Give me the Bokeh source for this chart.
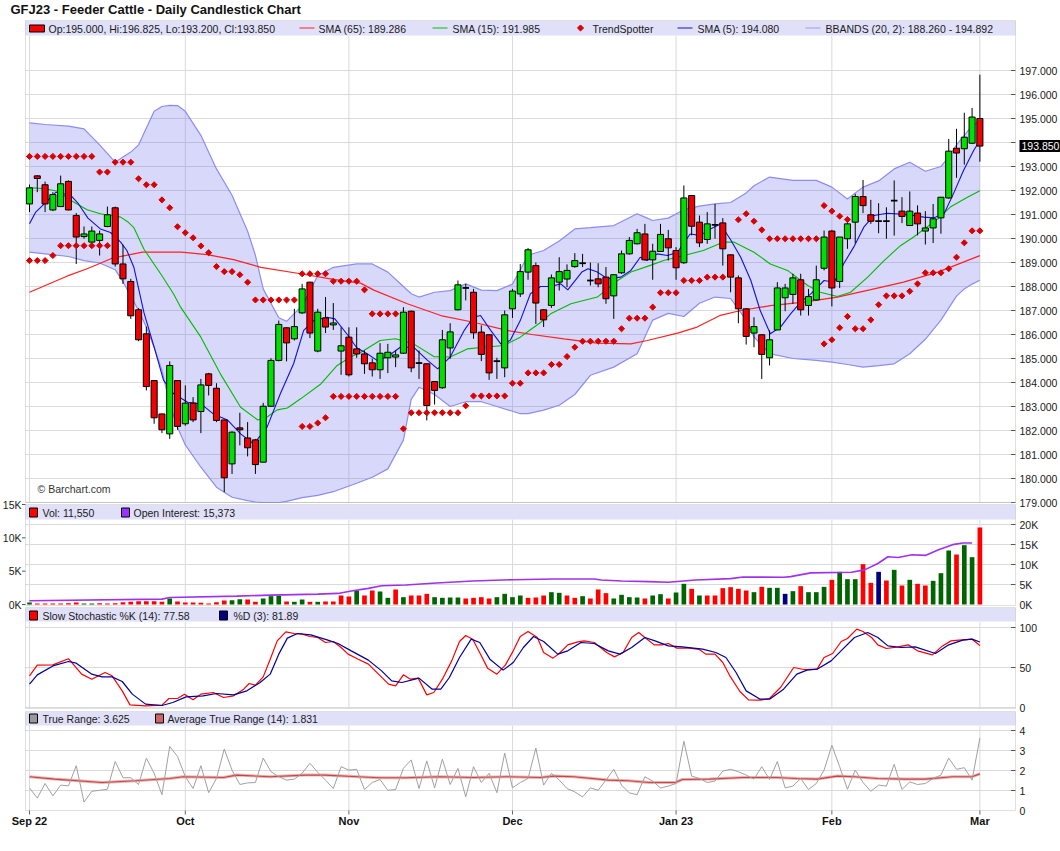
import math
from bokeh.plotting import figure
from bokeh.models import Range1d, Label, BoxAnnotation
from bokeh.embed import file_html
from bokeh.resources import INLINE

# ---------------- data ----------------
month_idx = [0, 20, 41, 62, 83, 103, 122]
month_lbl = ["Sep 22", "Oct", "Nov", "Dec", "Jan 23", "Feb", "Mar"]

opens = [191.44, 192.61, 192.24, 191.19, 191.33, 192.38, 190.96, 190.08, 189.85, 189.92,
         190.50, 191.28, 188.94, 188.21, 187.03, 186.03, 184.08, 182.69, 181.86, 184.08,
         182.28, 183.14, 182.79, 184.36, 183.76, 182.44, 180.61, 182.11, 181.69, 181.61,
         180.68, 183.01, 184.92, 186.28, 185.82, 186.90, 188.18, 185.31, 186.69, 186.40,
         185.31, 185.89, 185.40, 185.19, 184.82, 184.53, 185.03, 185.06, 185.22, 186.97,
         184.81, 184.78, 184.04, 183.78, 185.44, 187.03, 187.94, 187.76, 186.10, 185.99,
         184.89, 184.61, 187.07, 187.69, 188.60, 188.87, 187.03, 187.21, 188.18, 188.31,
         188.83, 188.97, 188.25, 188.32, 188.39, 187.61, 188.57, 189.36, 189.78, 190.19,
         189.11, 189.46, 189.99, 189.50, 188.99, 191.79, 190.68, 189.96, 190.57, 190.65,
         189.32, 188.36, 187.07, 186.06, 185.99, 185.03, 186.19, 187.53, 187.67, 188.28,
         187.21, 187.44, 188.76, 190.31, 188.21, 189.99, 190.68, 191.75, 190.99, 190.72,
         190.72, 191.58, 191.14, 190.54, 191.06, 190.31, 190.44, 190.86, 191.69, 193.76,
         193.74, 193.97, 195.00]
highs = [192.25, 192.63, 192.37, 191.93, 192.62, 192.42, 191.06, 190.50, 190.50, 190.33,
         191.33, 191.33, 189.74, 188.32, 187.10, 186.33, 184.10, 182.70, 184.88, 184.10,
         183.88, 183.39, 184.15, 184.40, 183.97, 182.45, 181.97, 182.74, 182.35, 181.65,
         183.15, 185.01, 186.58, 186.30, 187.07, 188.11, 188.20, 187.07, 187.56, 187.31,
         186.30, 186.30, 186.30, 185.33, 184.99, 185.64, 185.61, 185.33, 187.14, 187.00,
         185.33, 184.80, 184.05, 186.19, 186.47, 188.25, 188.11, 187.90, 186.38, 186.00,
         185.03, 187.00, 187.90, 188.94, 189.60, 189.00, 187.05, 188.50, 189.22, 188.92,
         189.39, 189.36, 189.00, 188.97, 188.81, 188.50, 189.50, 190.06, 190.40, 190.61,
         189.78, 190.61, 190.36, 189.64, 192.21, 191.80, 190.96, 191.10, 191.44, 190.85,
         189.33, 188.46, 187.10, 186.72, 186.00, 186.17, 188.18, 188.11, 188.53, 188.53,
         187.90, 188.87, 190.33, 190.36, 190.06, 190.89, 191.86, 192.44, 191.61, 191.47,
         191.30, 192.42, 191.72, 191.96, 191.38, 191.14, 191.44, 191.72, 194.15, 194.57,
         195.24, 195.44, 196.825]
lows = [191.10, 191.93, 191.10, 191.14, 191.33, 191.17, 188.94, 189.99, 189.64, 189.29,
        190.47, 188.83, 188.11, 186.65, 185.72, 183.67, 182.28, 181.89, 181.65, 182.03,
        182.20, 182.35, 181.89, 183.46, 182.35, 179.43, 180.19, 181.38, 180.92, 180.19,
        180.68, 183.00, 184.88, 184.88, 185.75, 186.86, 185.85, 185.26, 186.06, 186.19,
        184.32, 184.25, 185.03, 184.36, 184.25, 184.15, 184.39, 184.64, 185.19, 184.43,
        184.15, 182.42, 183.08, 183.74, 184.99, 187.00, 187.42, 185.82, 184.89, 184.11,
        184.15, 184.22, 186.69, 187.56, 188.28, 186.44, 186.31, 187.11, 187.83, 187.97,
        188.78, 188.81, 188.04, 187.97, 187.28, 186.65, 188.53, 189.33, 189.75, 189.08,
        188.28, 189.46, 189.08, 188.28, 188.94, 190.13, 189.64, 189.78, 189.99, 188.87,
        187.76, 186.47, 185.58, 185.47, 184.15, 184.71, 186.19, 186.97, 187.28, 186.79,
        186.79, 187.42, 188.67, 187.17, 187.94, 189.57, 189.80, 191.06, 190.61, 190.22,
        189.99, 190.12, 190.64, 190.54, 190.13, 189.75, 189.81, 190.20, 191.65, 192.53,
        193.08, 193.94, 193.20]
closes = [192.11, 192.50, 191.44, 191.83, 192.28, 191.19, 190.06, 190.19, 190.31, 190.19,
          190.99, 188.94, 188.32, 186.78, 185.78, 183.83, 182.53, 182.03, 184.71, 182.17,
          183.14, 182.44, 183.90, 183.88, 182.42, 180.03, 181.93, 182.03, 181.28, 180.58,
          183.01, 184.92, 186.42, 185.65, 186.33, 187.90, 186.06, 186.93, 186.31, 186.48,
          185.53, 184.32, 185.19, 184.78, 184.53, 185.22, 185.26, 185.15, 186.93, 184.61,
          184.81, 183.04, 183.67, 185.78, 186.11, 188.07, 187.94, 186.07, 185.17, 184.40,
          184.89, 186.82, 187.81, 188.62, 189.53, 187.31, 186.61, 188.36, 188.62, 188.67,
          189.08, 188.97, 188.25, 188.11, 187.49, 188.49, 189.36, 189.92, 190.24, 189.11,
          189.47, 190.17, 189.61, 188.78, 191.69, 190.51, 189.82, 190.61, 190.57, 189.57,
          188.39, 187.07, 185.92, 186.33, 185.17, 185.78, 187.94, 187.94, 188.36, 187.03,
          187.58, 188.28, 190.06, 187.94, 190.06, 190.61, 191.75, 191.37, 190.72, 190.72,
          190.72, 191.58, 190.92, 191.14, 190.61, 190.44, 190.82, 191.72, 193.64, 193.56,
          194.22, 195.06, 193.85]

sma65_x = [0, 4.8, 7.4, 10.6, 14.5, 19.5, 22.8, 26.2, 29.7, 34.8, 39, 42.5, 44.2, 48.5, 52.8, 57,
           61.3, 64.5, 68.6, 72.9, 77.2, 79.3, 83.2, 85.7, 88.7, 91.3, 95.1, 99.4, 103.7, 108,
           112.2, 116.6, 122]
sma65_v = [187.76, 188.43, 188.74, 189.18, 189.43, 189.43, 189.33, 189.12, 188.80, 188.53, 188.30,
           188.14, 187.85, 187.28, 186.79, 186.51, 186.17, 186.00, 185.82, 185.64, 185.61, 185.75,
           186.06, 186.31, 186.80, 187.00, 187.20, 187.35, 187.56, 187.87, 188.18, 188.60, 189.286]

sma15_x = [0, 2, 3.6, 5.5, 7.4, 9.1, 10.4, 11.7, 12.6, 13.4, 14.7, 17.0, 18.5, 19.4, 22, 24.5,
           27.1, 29.3, 30.5, 31.8, 33.1, 34.8, 37.4, 39.5, 41.2, 42.5, 45, 47, 49.3, 51.9, 54,
           56.2, 58.3, 60.9, 63, 64.3, 65.6, 66.9, 69.5, 72.9, 75.5, 77.2, 79.7, 81.4, 84, 86.5,
           89.1, 90.4, 93, 95.1, 97.3, 99.9, 101.5, 103.7, 105.4, 107.6, 109.7, 111.8, 113.5,
           116.6, 118.2, 120.4, 122]
sma15_v = [192.12, 192.07, 191.97, 191.55, 191.20, 191.03, 190.96, 190.89, 190.70, 190.45, 189.55,
           188.45, 187.69, 187.14, 185.89, 184.36, 182.97, 182.44, 182.56, 182.86, 182.94, 183.32,
           183.94, 184.71, 185.06, 185.25, 185.75, 185.82, 185.61, 185.08, 185.06, 185.40, 185.47,
           185.54, 185.89, 186.20, 186.50, 186.86, 187.28, 187.56, 188.25, 188.60, 188.88, 189.08,
           189.29, 189.50, 189.85, 189.85, 189.43, 188.94, 188.67, 188.04, 187.76, 187.58, 187.76,
           188.39, 189.08, 189.70, 190.06, 190.82, 191.31, 191.72, 191.985]

sma5_x = [0, 0.8, 2, 3.4, 5.3, 6.3, 7.5, 9.1, 10.4, 11.7, 12.5, 13.4, 14.7, 16, 17.2, 18.5, 20.3,
          22, 23.6, 25.4, 27.1, 28.8, 30.5, 32.2, 33.9, 35.2, 36.5, 38.2, 39.2, 40.8, 42, 43.4,
          44.6, 45.9, 47.6, 49.3, 51.1, 52.4, 54, 55.8, 57, 57.9, 59.2, 60.5, 61.7, 63, 64.3, 65.6,
          66.9, 68.2, 69.1, 70.9, 71.7, 72.9, 74.2, 75.9, 77.2, 78.4, 79.3, 80.6, 81.9, 83.2, 84.8,
          86.1, 87.4, 88.7, 90, 91.3, 92.6, 93.8, 95.1, 96.4, 97.7, 99, 100.3, 102, 103.3, 104.5,
          105.8, 107.1, 108.4, 110.1, 112.7, 114.8, 116.1, 117.4, 118.6, 119.9, 121.2, 122]
sma5_v = [190.61, 191.10, 191.47, 191.93, 191.80, 191.44, 190.85, 190.40, 190.25, 189.85, 189.50,
          188.80, 186.90, 185.47, 184.10, 183.53, 183.18, 183.11, 182.69, 182.44, 181.86, 181.44,
          182.14, 183.53, 184.78, 186.17, 186.58, 186.72, 186.65, 186.00, 185.45, 185.19, 184.92,
          185.06, 185.47, 185.47, 184.92, 184.57, 185.06, 186.17, 186.72, 186.79, 186.17, 185.61,
          185.75, 186.58, 187.70, 188.00, 188.00, 188.11, 187.86, 188.60, 188.74, 188.60, 188.32,
          188.39, 188.67, 189.22, 189.08, 189.36, 189.29, 189.43, 190.19, 190.13, 190.40, 190.60,
          189.95, 189.22, 188.25, 187.00, 186.03, 186.31, 186.86, 187.35, 187.69, 188.25, 188.18,
          188.94, 189.64, 190.47, 190.96, 191.05, 191.00, 190.89, 190.86, 191.03, 191.86, 192.83,
          193.67, 194.08]

bb_x = [0, 2, 5, 7, 9, 11, 12, 13, 14, 15, 16, 17, 18, 19, 20, 22, 24, 26, 28, 29, 30, 32, 33,
        35, 37, 39, 42, 44, 46, 48, 49, 50, 52, 54, 56, 58, 60, 62, 63, 64, 66, 68, 70, 72, 75,
        78, 79, 80, 82, 84, 86, 88, 90, 92, 93, 95, 98, 101, 103, 105, 107, 109, 111, 113, 115,
        117, 118, 119, 120, 121, 122]
bb_upper = [194.82, 194.75, 194.68, 194.57, 193.90, 193.18, 193.40, 193.60, 193.90, 194.60, 195.30,
            195.50, 195.55, 195.54, 195.30, 194.30, 192.90, 191.80, 190.30, 189.30, 187.90, 186.70,
            186.55, 187.20, 188.45, 188.80, 188.94, 188.94, 188.60, 188.00, 187.70, 187.56, 187.76,
            187.83, 188.11, 187.85, 187.83, 188.10, 188.70, 189.30, 189.50, 189.90, 190.40, 190.45,
            190.54, 191.03, 190.89, 190.75, 190.85, 191.20, 191.35, 191.44, 191.50, 191.90, 192.20,
            192.56, 192.42, 192.42, 192.14, 191.65, 192.14, 192.40, 192.90, 193.18, 192.80, 193.00,
            193.40, 193.90, 194.30, 194.70, 194.892]
bb_lower = [189.43, 189.36, 189.25, 189.08, 188.98, 188.70, 188.20, 187.60, 187.00, 186.30, 185.47,
            184.50, 183.10, 182.14, 181.40, 180.47, 179.64, 179.22, 179.08, 179.02, 179.00, 179.00,
            179.05, 179.20, 179.30, 179.45, 179.80, 180.05, 180.40, 181.60, 183.30, 183.80, 183.50,
            183.00, 183.20, 183.20, 183.00, 182.80, 182.70, 182.70, 182.85, 183.05, 183.50, 184.30,
            184.64, 185.20, 185.90, 186.60, 186.88, 186.75, 187.30, 187.56, 187.50, 186.60, 185.90,
            185.20, 185.00, 184.92, 184.85, 184.75, 184.64, 184.70, 184.78, 185.20, 185.80, 186.60,
            187.10, 187.60, 187.90, 188.10, 188.26]

N = None
ts_upper = ([193.42] * 9 + [192.77] * 2 + [193.18] * 3 + [192.49] + [192.24] * 2 +
            [191.61, 191.28, 190.49, 190.24, 190.03, 189.69, 189.41, 188.83] + [188.62] * 2 +
            [188.49, 188.18] + [187.44] * 6 + [188.53] * 4 + [188.22] * 4 + [187.86] +
            [186.86] * 4 + [N] * 43 + [190.78, 191.03, 190.72, 190.36] + [189.99] * 7 +
            [191.37, 191.14, 190.93, 190.79] + [N] * 17)
ts_lower = ([189.08] * 3 + [189.29] + [189.70] * 7 + [N] * 24 + [182.17] * 2 + [182.31, 182.53] +
            [183.42] * 9 + [182.07] + [182.74] * 7 + [183.03] + [183.44] * 5 + [183.97] * 2 +
            [184.40] * 3 + [184.75] * 2 + [185.08, 185.47] + [185.72] * 5 + [186.24] +
            [186.68] * 3 + [187.14] + [187.74] * 3 + [188.25] * 3 + [188.39] * 3 + [N] * 12 +
            [185.61, 185.78, 186.28, 186.75, 186.24, 186.24, 186.61, 187.24] + [187.61] * 3 +
            [187.80, 188.11] + [188.57] * 3 + [188.74, 189.22, 189.82, 190.32, 190.32])

volume_k = [0.3, 0.15, 0.15, 0.15, 0.15, 0.2, 0.3, 0.15, 0.15, 0.2,
            0.15, 0.2, 0.35, 0.4, 0.5, 0.5, 0.5, 0.4, 0.9, 0.45,
            0.3, 0.3, 0.25, 0.15, 0.35, 0.6, 0.65, 0.8, 0.75, 0.4,
            0.9, 1.25, 1.3, 0.45, 0.4, 0.75, 0.4, 0.4, 0.45, 0.45,
            1.35, 1.2, 2.05, 1.35, 2.1, 1.95, 1.0, 2.25, 1.1, 1.35,
            1.35, 1.6, 1.1, 1.0, 1.05, 1.05, 0.9, 1.0, 1.1, 0.9,
            1.1, 1.6, 1.1, 1.35, 1.0, 1.05, 1.35, 1.85, 1.75, 1.35,
            1.0, 1.25, 0.9, 2.25, 1.7, 0.9, 1.45, 1.1, 1.05, 0.9,
            1.35, 1.55, 0.9, 1.8, 3.1, 2.35, 1.35, 1.35, 1.35, 2.45,
            2.6, 2.35, 2.1, 1.85, 2.65, 2.5, 2.5, 1.6, 2.0, 2.75,
            1.85, 1.85, 2.65, 3.7, 4.9, 3.8, 3.8, 6.05, 3.25, 4.9,
            3.6, 5.2, 2.85, 3.7, 3.1, 2.85, 3.55, 4.7, 8.1, 7.5,
            8.9, 7.1, 11.55]
volume_dir = (list("udddddduud") + list("ddddddddud") + list("dddddduudd") + list("uuuduududd") +
              list("ddudduudud") + list("dduuuudddd") + list("uuuuddduud") + list("duddduuuud") +
              list("uuduududdd") + list("ddduduunud") + list("uuuduuuddn") + list("dududduuud") +
              list("uud"))

oi_x = [0, 17, 18, 26.6, 31, 37, 39.6, 41.3, 43.5, 45.2, 48.3, 51.7, 56.9, 62.1, 67.3, 72.5, 73.4,
        76, 79.5, 82, 85.5, 90, 91.6, 96.8, 97.7, 100.3, 105.5, 107.2, 108.9, 110.2, 111.5, 113.3,
        115, 116.7, 118.5, 119.8, 121]
oi_k = [0.92, 1.34, 1.76, 2.1, 2.35, 2.6, 2.77, 3.36, 4.03, 4.7, 4.87, 5.3, 5.88, 6.2, 6.39, 6.39,
        6.13, 5.88, 5.71, 5.55, 6.13, 6.47, 6.89, 6.8, 6.97, 7.9, 8.07, 8.66, 10.25, 11.93, 11.76,
        12.44, 12.27, 13.7, 14.96, 15.38, 15.373]

stk_x = [0, 1, 3, 5, 6.7, 8, 9.7, 10.6, 11.9, 12.9, 14.9, 17, 17.9, 19, 19.9, 21, 22, 23.6, 24.9,
         26.2, 27.5, 28.2, 29, 30, 30.9, 31.8, 32.9, 34, 35, 36, 37, 38, 39, 40, 40.9, 42.2, 43.5,
         44.8, 46.1, 47, 48, 48.9, 49.9, 51, 51.9, 53, 54.2, 55.2, 56, 56.9, 58, 58.8, 60, 61.1,
         62.1, 63, 64, 65.2, 66, 67.2, 68, 69.1, 70.4, 71.2, 72.5, 74.1, 75.1, 76.2, 77.3, 78.2,
         79, 80.2, 81.2, 82, 83.1, 84.7, 86, 86.8, 88, 89, 89.9, 91.2, 92.3, 93.8, 95, 96.4, 98.1,
         99.4, 101.1, 102, 103.1, 104.2, 105, 106.2, 107, 108.1, 108.9, 110, 111.5, 112.8, 114,
         115.9, 117.2, 118.3, 119.3, 121, 122]
stk_k = [39.6, 52.9, 53.3, 61, 41.7, 35.4, 43.75, 39.6, 20.8, 3.3, 2.1, 2.9, 11.25, 11.25, 16.7,
         9.6, 16.7, 18.75, 12.5, 14.6, 22.9, 30, 27.9, 38.3, 60.4, 83.3, 94.6, 92.5, 91.7, 88.75,
         87.5, 81.25, 82.5, 75, 66.7, 60.4, 54.2, 41.7, 29.2, 27, 40.8, 35.4, 36.7, 15.8, 18.75,
         35.4, 58.3, 82.5, 90, 85.4, 64.6, 49.2, 41.7, 53.3, 70.8, 88.75, 95, 87.5, 68.75, 61.7,
         67.5, 78.3, 82.1, 83.3, 81.25, 68.75, 63.3, 68.75, 87.5, 93.75, 87.5, 78.3, 78.3, 80,
         74.2, 74.2, 72.5, 66.7, 66.7, 56.25, 39.6, 20, 9.6, 9.2, 11.25, 25, 50, 47.5, 47.9, 62.5,
         67.5, 82.5, 86.25, 97.9, 95, 87.5, 78.3, 73.75, 75.8, 78.3, 70.8, 65.8, 77, 83.3, 84.2,
         85.4, 77.58]
std_x = [0, 1, 3, 5, 6, 8, 9.3, 10.6, 11.9, 13.2, 14.9, 17, 18.4, 20.1, 22.3, 24, 26.2, 27.9,
         29.6, 30.9, 32, 33.1, 34.4, 36.1, 38.3, 39.6, 41.3, 43.5, 45.2, 46.5, 47.8, 50, 51.7,
         52.8, 53.9, 55.2, 56.7, 57.8, 59.1, 60.8, 62.1, 63.4, 64.7, 66, 67.8, 69.1, 70.8, 72.5,
         74.3, 75.8, 77.3, 79, 80.3, 82, 83.8, 86.4, 88.1, 89.4, 90.7, 92, 93.8, 95, 96.8, 98.5,
         99.8, 101.1, 102.9, 104.4, 105.9, 107.6, 108.9, 110.2, 111.9, 113.7, 116.3, 118, 119.8,
         121, 122]
std_d = [29.2, 40.8, 52, 57.5, 55.4, 41.7, 38.3, 38.3, 32.5, 16.7, 4.2, 2.5, 6.25, 13.3, 14.6,
         17.5, 15.8, 20.8, 31.25, 41.7, 66.7, 86.7, 92.5, 90.8, 84.2, 80, 70.8, 59.2, 45.8, 33.3,
         31.25, 36.7, 22.9, 22.9, 37.5, 62.5, 85.4, 81.25, 60.4, 46.7, 56.25, 75, 88.75, 82.5,
         66.7, 70.8, 81.25, 80, 70.8, 66.7, 75, 87.5, 83.3, 77, 75.8, 72.9, 68.75, 62.5, 43.75,
         20.8, 10.4, 10.4, 22.9, 41.7, 46.7, 47.9, 58.3, 72.9, 87.5, 93.75, 87.5, 77, 75, 75.8,
         67.5, 78.3, 84.2, 85.4, 81.89]

true_range = [1.13, 0.62, 1.35, 0.73, 1.27, 1.23, 2.24, 0.42, 0.96, 1.01,
              1.06, 2.45, 1.64, 1.64, 1.30, 2.62, 1.86, 0.79, 3.20, 2.70,
              1.69, 1.10, 2.24, 0.89, 1.60, 3.07, 2.02, 1.30, 1.38, 1.40,
              2.62, 1.94, 1.69, 1.52, 1.57, 1.86, 2.36, 1.91, 1.52, 1.10,
              2.19, 2.02, 2.06, 1.05, 1.40, 1.55, 1.01, 1.05, 2.11, 2.53,
              1.10, 2.48, 1.13, 2.57, 1.30, 2.11, 0.68, 2.19, 1.40, 1.86,
              0.89, 2.87, 1.13, 1.40, 1.60, 3.12, 1.27, 1.86, 1.52, 1.10,
              0.93, 0.68, 1.13, 1.01, 1.52, 2.06, 1.27, 0.88, 0.79, 1.69,
              1.47, 1.13, 1.22, 1.35, 3.46, 1.72, 1.60, 1.40, 1.47, 1.97,
              2.06, 1.94, 1.77, 1.57, 2.19, 1.55, 2.45, 1.13, 1.22, 1.60,
              1.05, 1.35, 2.02, 3.26, 2.19, 1.06, 2.02, 1.40, 0.96, 1.27,
              1.22, 2.31, 1.05, 1.43, 1.30, 1.35, 1.60, 1.77, 2.62, 2.06,
              2.14, 1.52, 3.625]
atr_x = [0, 3.2, 9.3, 13.6, 18, 19.7, 24.9, 26.6, 30.9, 35.3, 37.9, 42.2, 44.8, 48.3, 52.6, 56.9,
         61.3, 65.6, 67.3, 69.9, 74.3, 76.9, 79.5, 82.9, 83.8, 87.3, 91.6, 95.9, 98.5, 101.1, 103.7,
         105.9, 108.9, 112.4, 115, 118.5, 121, 122]
atr_v = [1.69, 1.57, 1.4, 1.49, 1.6, 1.69, 1.65, 1.77, 1.69, 1.77, 1.77, 1.69, 1.64, 1.64, 1.69,
         1.65, 1.69, 1.65, 1.72, 1.69, 1.52, 1.49, 1.4, 1.4, 1.55, 1.57, 1.65, 1.65, 1.6, 1.57,
         1.72, 1.69, 1.6, 1.57, 1.57, 1.69, 1.69, 1.831]

price_ticks = list(range(179, 198))
vol_ticks_left = [0, 5000, 10000, 15000]
oi_ticks = [0, 5000, 10000, 15000, 20000]
stoch_ticks = [0, 50, 100]
tr_ticks = [0, 1, 2, 3, 4]

# ---------------- page geometry (pixels) ----------------
W, H = 1060, 840
PX0, PXS = 29.0, 7.79          # page x of bar 0, pixels per bar


def xp(px):
    return (px - PX0) / PXS


XL, XR = xp(25), xp(1015)      # panel left / right edges
PANEL = {"main": (20, 502), "vol": (504, 605), "stoch": (607, 708), "tr": (711, 810)}
BANDS = {"main": (20.5, 35), "vol": (504.5, 519), "stoch": (607.5, 621), "tr": (711.5, 725)}


def full_range(v_at, py_a, py_b):
    # linear value(py) known at two page rows -> range over the whole canvas height
    va, vb = v_at
    slope = (vb - va) / (py_b - py_a)
    return Range1d(va + (H - py_a) * slope, va + (0 - py_a) * slope)


FONT = "Liberation Sans"
GRID = "#DADADA"
BAND = "#E0E0F8"
BORDER = "#999999"
RED = "#F00000"
GREEN = "#00E000"
TSRED = "#D80000"

p = figure(frame_width=W, frame_height=H,
           x_range=Range1d(xp(0), xp(W)), y_range=Range1d(H, 0),
           output_backend="svg", toolbar_location=None,
           x_axis_location=None, y_axis_location=None,
           min_border_left=0, min_border_right=0, min_border_top=0, min_border_bottom=0,
           outline_line_color=None, background_fill_color="white", border_fill_color="white")
p.xgrid.visible = False
p.ygrid.visible = False
p.extra_y_ranges = {
    "main": full_range((197.0, 179.0), 70, 502),
    "vol": full_range((15000.0, 0.0), 504, 604),
    "oi": full_range((20000.0, 0.0), 524, 604),
    "stoch": full_range((100.0, 0.0), 627, 707),
    "tr": full_range((4.0, 0.0), 730, 810),
}


def hgrid(vals, rng):
    n = len(vals)
    p.segment(x0=[XL] * n, x1=[XR] * n, y0=vals, y1=vals, y_range_name=rng,
              line_color=GRID, line_width=1, level="underlay")


def rticks(vals, rng):
    n = len(vals)
    p.segment(x0=[xp(1010.5)] * n, x1=[XR] * n, y0=vals, y1=vals, y_range_name=rng,
              line_color="#555555", line_width=1)


def lab(xpx, y, text, rng="default", size="10.5px", bold=False, color="#1a1a1a",
        align="left", baseline="middle", **kw):
    p.add_layout(Label(x=xp(xpx), y=y, y_range_name=rng, text=text, text_font=FONT,
                       text_font_size=size, text_font_style="bold" if bold else "normal",
                       text_color=color, text_align=align, text_baseline=baseline, **kw))


# panel backgrounds: grids
for name, (top, bot) in PANEL.items():
    btop = BANDS[name][1]
    n = len(month_idx)
    p.segment(x0=month_idx, x1=month_idx, y0=[btop] * n, y1=[bot] * n,
              line_color=GRID, line_width=1, level="underlay")
hgrid(price_ticks, "main")
hgrid(oi_ticks[1:], "oi")
hgrid(stoch_ticks, "stoch")
hgrid(tr_ticks[1:], "tr")

for name, (top, bot) in BANDS.items():
    p.add_layout(BoxAnnotation(left=XL, right=XR, top=top, bottom=bot, fill_color=BAND,
                               fill_alpha=1.0, line_color=None, level="underlay"))

# ---------------- main panel ----------------
p.varea(x=bb_x, y1=bb_lower, y2=bb_upper, y_range_name="main",
        fill_color="#6464F0", fill_alpha=0.25)
p.line(bb_x, bb_upper, y_range_name="main", line_color="#8C8CF2", line_width=1.2)
p.line(bb_x, bb_lower, y_range_name="main", line_color="#8C8CF2", line_width=1.2)
p.line(sma65_x, sma65_v, y_range_name="main", line_color="#FF2020", line_width=1.2)
p.line(sma15_x, sma15_v, y_range_name="main", line_color="#00BB00", line_width=1.1)
p.line(sma5_x, sma5_v, y_range_name="main", line_color="#1010E0", line_width=1.1)

idx = list(range(len(closes)))
p.segment(x0=idx, x1=idx, y0=highs, y1=lows, y_range_name="main",
          line_color="black", line_width=1)
bx, btop_, bbot_, bcol, dx, dy = [], [], [], [], [], []
for i in idx:
    o, c = opens[i], closes[i]
    if abs(o - c) < 0.005:
        dx.append(i)
        dy.append(o)
    else:
        bx.append(i)
        btop_.append(max(o, c))
        bbot_.append(min(o, c))
        bcol.append(GREEN if c > o else RED)
p.vbar(x=bx, top=btop_, bottom=bbot_, width=0.78, y_range_name="main",
       fill_color=bcol, line_color="black", line_width=1)
p.segment(x0=[d - 0.42 for d in dx], x1=[d + 0.42 for d in dx], y0=dy, y1=dy,
          y_range_name="main", line_color="black", line_width=1.8)

tsu_x = [i for i in idx if ts_upper[i] is not None]
tsu_y = [ts_upper[i] for i in tsu_x]
tsl_x = [i for i in idx if ts_lower[i] is not None]
tsl_y = [ts_lower[i] for i in tsl_x]
for xs, ys in [(tsu_x, tsu_y), (tsl_x, tsl_y)]:
    p.scatter(xs, ys, y_range_name="main", marker="square", angle=math.pi / 4, size=4.3,
              fill_color=TSRED, line_color=TSRED)

# ---------------- volume / open interest ----------------
vcol = {"u": "#006400", "d": "#FF0000", "n": "#000080"}
p.vbar(x=idx, top=[v * 1000 for v in volume_k], bottom=0, width=0.6, y_range_name="vol",
       fill_color=[vcol[d] for d in volume_dir], line_color=None)
p.line(oi_x, [v * 1000 for v in oi_k], y_range_name="oi", line_color="#A030F0", line_width=1.6)

# ---------------- stochastic ----------------
p.line(stk_x, stk_k, y_range_name="stoch", line_color="#FF0000", line_width=1.2)
p.line(std_x, std_d, y_range_name="stoch", line_color="#000099", line_width=1.2)

# ---------------- true range ----------------
p.line(atr_x, atr_v, y_range_name="tr", line_color="#F0B0B0", line_width=3)
p.line(atr_x, atr_v, y_range_name="tr", line_color="#C04848", line_width=1.1)
p.line(idx, true_range, y_range_name="tr", line_color="#A0A0A0", line_width=1)

# ---------------- ticks ----------------
rticks(price_ticks, "main")
rticks(oi_ticks[1:], "oi")
rticks(stoch_ticks[1:], "stoch")
rticks(tr_ticks[1:], "tr")
n = len(vol_ticks_left)
p.segment(x0=[xp(21.5)] * n, x1=[XL] * n, y0=vol_ticks_left, y1=vol_ticks_left,
          y_range_name="vol", line_color="#555555", line_width=1)
n = len(month_idx)
p.segment(x0=month_idx, x1=month_idx, y0=[810] * n, y1=[814] * n,
          line_color="#666666", line_width=1)

# panel borders
for name, (top, bot) in PANEL.items():
    p.add_layout(BoxAnnotation(left=XL, right=XR, top=top, bottom=bot, fill_alpha=0.0,
                               line_color=BORDER, line_width=1))

# ---------------- legends ----------------
p.rect(x=[xp(36.5)], y=[28], width=15, height=7, width_units="screen", height_units="screen",
       fill_color=RED, line_color="black", line_width=1)
for x0, x1, col in [(299, 314, "#FF2020"), (432, 447, "#00BB00"), (677, 692, "#1010E0"),
                    (805, 820, "#9C9CF0")]:
    p.segment(x0=[xp(x0)], x1=[xp(x1)], y0=[27.5], y1=[27.5], line_color=col, line_width=1.2)
p.scatter([xp(580)], [27.5], marker="square", angle=math.pi / 4, size=4.3,
          fill_color=TSRED, line_color=TSRED)
for xc, yc, col in [(33, 512, "#FF0000"), (125, 512, "#9933FF"),
                    (33, 615, "#FF0000"), (223, 615, "#000080"),
                    (33, 718, "#999999"), (159, 718, "#CC6666")]:
    p.rect(x=[xp(xc)], y=[yc], width=8, height=9, width_units="screen", height_units="screen",
           fill_color=col, line_color="black", line_width=1)

lab(48, 28, "Op:195.000, Hi:196.825, Lo:193.200, Cl:193.850")
lab(318, 28, "SMA (65): 189.286")
lab(452, 28, "SMA (15): 191.985")
lab(592, 28, "TrendSpotter")
lab(697, 28, "SMA (5): 194.080")
lab(825, 28, "BBANDS (20, 2): 188.260 - 194.892")
lab(42, 512, "Vol: 11,550")
lab(133, 512, "Open Interest: 15,373")
lab(42, 615, "Slow Stochastic %K (14): 77.58")
lab(233, 615, "%D (3): 81.89")
lab(42, 718, "True Range: 3.625")
lab(167, 718, "Average True Range (14): 1.831")

# ---------------- axis labels ----------------
for t in price_ticks:
    if t == 194:
        continue
    lab(1019, t, "%.3f" % t, rng="main")
for t in oi_ticks:
    lab(1019, t, "%dK" % (t // 1000), rng="oi")
for t in vol_ticks_left:
    lab(21, t, "%dK" % (t // 1000), rng="vol", align="right")
for t in stoch_ticks:
    lab(1019, t, "%d" % t, rng="stoch")
for t in tr_ticks:
    lab(1019, t, "%d" % t, rng="tr")
for m, l in zip(month_idx, month_lbl):
    p.add_layout(Label(x=m, y=820.5, text=l, text_font=FONT, text_font_size="11px",
                       text_font_style="bold", text_color="#111111", text_align="center",
                       text_baseline="middle"))

# last price box
p.add_layout(Label(x=xp(1019), y=closes[-1], y_range_name="main", text="%.3f" % closes[-1],
                   text_font=FONT, text_font_size="10.5px", text_color="white",
                   text_align="left", text_baseline="middle",
                   background_fill_color="black", padding=2))

# title & watermark
lab(10, 8.5, "GFJ23 - Feeder Cattle - Daily Candlestick Chart", size="13px", bold=True,
    color="#111111")
lab(37, 488, "\u00a9 Barchart.com", color="#333333")

open("out.html", "w").write(file_html(p, INLINE))
